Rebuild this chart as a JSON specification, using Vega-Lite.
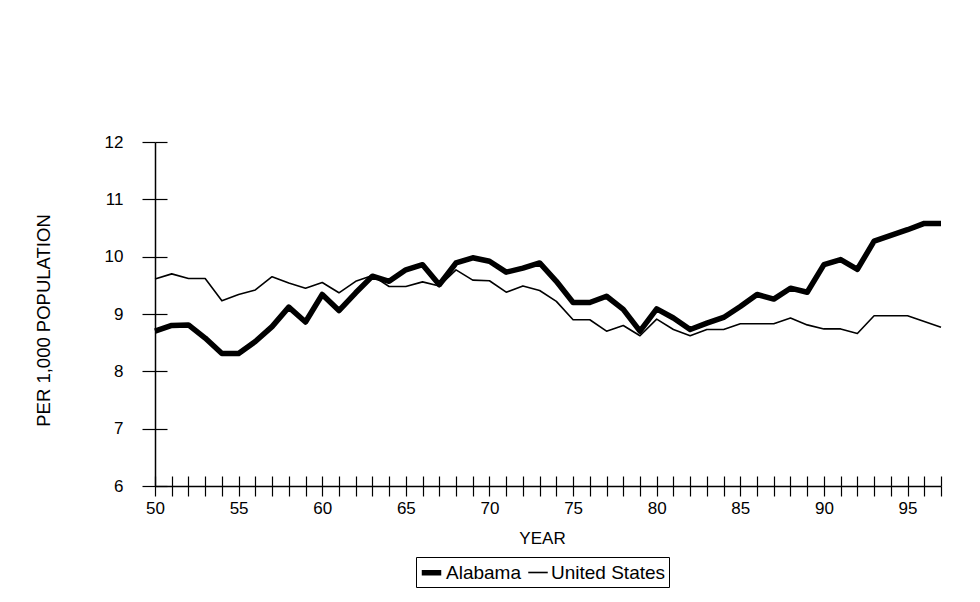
{
  "$schema": "https://vega.github.io/schema/vega-lite/v6.json",
  "width": 786,
  "height": 344,
  "autosize": {"type": "none"},
  "padding": {"left": 155, "top": 142, "right": 39, "bottom": 116},
  "background": "white",
  "data": {
    "values": [
      {"year": 50, "Alabama": 8.70, "United States": 9.61},
      {"year": 51, "Alabama": 8.80, "United States": 9.70},
      {"year": 52, "Alabama": 8.81, "United States": 9.62},
      {"year": 53, "Alabama": 8.58, "United States": 9.62},
      {"year": 54, "Alabama": 8.31, "United States": 9.23},
      {"year": 55, "Alabama": 8.31, "United States": 9.34},
      {"year": 56, "Alabama": 8.52, "United States": 9.42},
      {"year": 57, "Alabama": 8.78, "United States": 9.65},
      {"year": 58, "Alabama": 9.12, "United States": 9.54},
      {"year": 59, "Alabama": 8.86, "United States": 9.45},
      {"year": 60, "Alabama": 9.34, "United States": 9.55},
      {"year": 61, "Alabama": 9.06, "United States": 9.37},
      {"year": 62, "Alabama": 9.37, "United States": 9.57},
      {"year": 63, "Alabama": 9.66, "United States": 9.67},
      {"year": 64, "Alabama": 9.57, "United States": 9.48},
      {"year": 65, "Alabama": 9.77, "United States": 9.48},
      {"year": 66, "Alabama": 9.86, "United States": 9.56},
      {"year": 67, "Alabama": 9.51, "United States": 9.49},
      {"year": 68, "Alabama": 9.89, "United States": 9.77},
      {"year": 69, "Alabama": 9.98, "United States": 9.59},
      {"year": 70, "Alabama": 9.92, "United States": 9.58},
      {"year": 71, "Alabama": 9.73, "United States": 9.38},
      {"year": 72, "Alabama": 9.80, "United States": 9.49},
      {"year": 73, "Alabama": 9.89, "United States": 9.41},
      {"year": 74, "Alabama": 9.57, "United States": 9.22},
      {"year": 75, "Alabama": 9.20, "United States": 8.90},
      {"year": 76, "Alabama": 9.20, "United States": 8.90},
      {"year": 77, "Alabama": 9.31, "United States": 8.70},
      {"year": 78, "Alabama": 9.08, "United States": 8.80},
      {"year": 79, "Alabama": 8.70, "United States": 8.62},
      {"year": 80, "Alabama": 9.09, "United States": 8.91},
      {"year": 81, "Alabama": 8.93, "United States": 8.73},
      {"year": 82, "Alabama": 8.73, "United States": 8.62},
      {"year": 83, "Alabama": 8.84, "United States": 8.73},
      {"year": 84, "Alabama": 8.94, "United States": 8.73},
      {"year": 85, "Alabama": 9.13, "United States": 8.83},
      {"year": 86, "Alabama": 9.34, "United States": 8.83},
      {"year": 87, "Alabama": 9.26, "United States": 8.83},
      {"year": 88, "Alabama": 9.45, "United States": 8.93},
      {"year": 89, "Alabama": 9.38, "United States": 8.81},
      {"year": 90, "Alabama": 9.86, "United States": 8.74},
      {"year": 91, "Alabama": 9.95, "United States": 8.74},
      {"year": 92, "Alabama": 9.78, "United States": 8.66},
      {"year": 93, "Alabama": 10.27, "United States": 8.97},
      {"year": 94, "Alabama": 10.37, "United States": 8.97},
      {"year": 95, "Alabama": 10.47, "United States": 8.97},
      {"year": 96, "Alabama": 10.58, "United States": 8.87},
      {"year": 97, "Alabama": 10.58, "United States": 8.77}
    ]
  },
  "transform": [
    {"fold": ["Alabama", "United States"], "as": ["series", "rate"]}
  ],
  "layer": [
    {
      "transform": [{"filter": "datum.series === 'United States'"}],
      "mark": {"type": "line", "color": "black", "strokeJoin": "round"},
      "encoding": {
        "x": {
          "field": "year", "type": "quantitative",
          "scale": {"domain": [50, 97], "nice": false, "zero": false},
          "axis": {
            "orient": "bottom",
            "values": [50,51,52,53,54,55,56,57,58,59,60,61,62,63,64,65,66,67,68,69,70,71,72,73,74,75,76,77,78,79,80,81,82,83,84,85,86,87,88,89,90,91,92,93,94,95,96,97],
            "labelExpr": "datum.value % 5 === 0 ? datum.label : ''",
            "tickSize": 10, "labelPadding": 4, "labelFlush": false, "labelOverlap": false,
            "title": "YEAR", "titlePadding": 14, "titleX": 387
          }
        },
        "y": {
          "field": "rate", "type": "quantitative",
          "scale": {"domain": [6, 12], "nice": false, "zero": false},
          "axis": {
            "orient": "left",
            "values": [6, 7, 8, 9, 10, 11, 12],
            "tickSize": 13, "labelPadding": 19,
            "title": "PER 1,000 POPULATION", "titlePadding": 51, "titleFontSize": 18.5, "titleY": 178
          }
        },
        "strokeWidth": {
          "field": "series", "type": "nominal",
          "scale": {"domain": ["Alabama", "United States"], "range": [5.5, 1.6]},
          "legend": {
            "title": null, "orient": "none", "legendX": 261, "legendY": 415,
            "direction": "horizontal", "symbolType": "stroke", "symbolSize": 380,
            "symbolStrokeColor": "black", "labelFontSize": 19, "labelOffset": 2,
            "columnPadding": 4, "strokeColor": "black", "padding": 3,
            "labelFont": "Liberation Sans", "labelColor": "black"
          }
        }
      }
    },
    {
      "transform": [{"filter": "datum.series === 'Alabama'"}],
      "mark": {"type": "line", "color": "black", "strokeJoin": "round"},
      "encoding": {
        "x": {
          "field": "year", "type": "quantitative",
          "axis": {
            "orient": "bottom",
            "values": [50,51,52,53,54,55,56,57,58,59,60,61,62,63,64,65,66,67,68,69,70,71,72,73,74,75,76,77,78,79,80,81,82,83,84,85,86,87,88,89,90,91,92,93,94,95,96,97],
            "tickSize": -10, "labels": false, "domain": false, "title": null
          }
        },
        "y": {
          "field": "rate", "type": "quantitative",
          "axis": {
            "orient": "left",
            "values": [6, 7, 8, 9, 10, 11, 12],
            "tickSize": -12, "labels": false, "domain": false, "title": null
          }
        },
        "strokeWidth": {"field": "series", "type": "nominal"}
      }
    }
  ],
  "resolve": {"axis": {"x": "independent", "y": "independent"}},
  "config": {
    "view": {"stroke": null},
    "font": "Liberation Sans",
    "axis": {
      "grid": false,
      "domainColor": "black", "domainWidth": 1.5,
      "tickColor": "black", "tickWidth": 1.2,
      "labelFont": "Liberation Sans", "labelFontSize": 17, "labelColor": "black",
      "titleFont": "Liberation Sans", "titleFontSize": 17, "titleFontWeight": "normal", "titleColor": "black"
    }
  }
}
